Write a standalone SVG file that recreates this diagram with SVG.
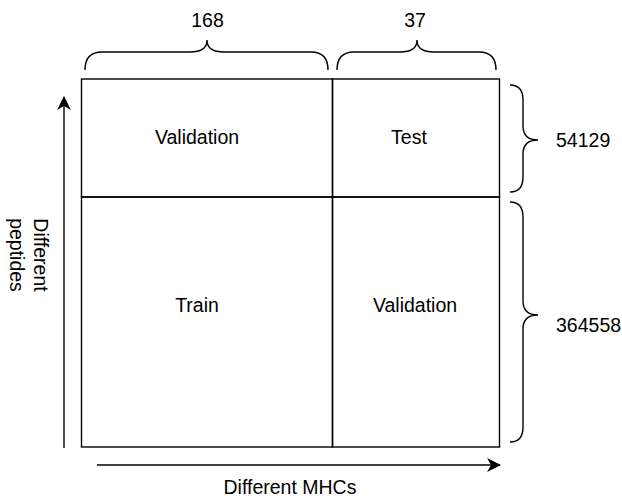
<svg xmlns="http://www.w3.org/2000/svg" width="622" height="498" viewBox="0 0 622 498">
<style>
text{font-family:"Liberation Sans",Arial,sans-serif;font-size:19.5px;fill:#000}
.ln{fill:none;stroke:#000;stroke-width:1.4}
.c{text-anchor:middle}
</style>
<defs>
<marker id="ah" viewBox="0 0 14 14" refX="13" refY="7" markerWidth="14" markerHeight="14" markerUnits="userSpaceOnUse" orient="auto">
<path d="M0,0 L14,7 L0,14 L4,7 Z" fill="#000"/>
</marker>
</defs>
<rect width="622" height="498" fill="#fff"/>
<g id="cell-validation-top">
<rect class="ln" x="81.5" y="79" width="251" height="118"/>
<text class="c" x="197" y="144">Validation</text>
</g>
<g id="cell-test">
<rect class="ln" x="332.5" y="79" width="167" height="118"/>
<text class="c" x="409" y="144">Test</text>
</g>
<g id="cell-train">
<rect class="ln" x="81.5" y="197" width="251" height="250"/>
<text class="c" x="197" y="312">Train</text>
</g>
<g id="cell-validation-bottom">
<rect class="ln" x="332.5" y="197" width="167" height="250"/>
<text class="c" x="415" y="312">Validation</text>
</g>
<g id="brace-168">
<path class="ln" d="M85,70 Q85,52 102,52 L190,52 Q207,52 207,40 Q207,52 224,52 L311,52 Q328,52 328,70"/>
<text class="c" x="207.5" y="27">168</text>
</g>
<g id="brace-37">
<path class="ln" d="M337,70 Q337,52 354,52 L400,52 Q417,52 417,40 Q417,52 434,52 L479,52 Q496,52 496,70"/>
<text class="c" x="415" y="27">37</text>
</g>
<g id="brace-54129">
<path class="ln" d="M510,85 Q523,85 523,100 L523,126 Q523,140 538,140 Q523,140 523,154 L523,177 Q523,192 510,192"/>
<text x="556" y="147">54129</text>
</g>
<g id="brace-364558">
<path class="ln" d="M510,202 Q523,202 523,217 L523,301 Q523,315 538,315 Q523,315 523,329 L523,427 Q523,442 510,442"/>
<text x="556" y="332">364558</text>
</g>
<g id="connectors">
<line class="ln" x1="64" y1="448" x2="64" y2="97" marker-end="url(#ah)"/>
<line class="ln" x1="97" y1="465" x2="500" y2="465" marker-end="url(#ah)"/>
</g>
<g id="label-peptides">
<text class="c" transform="translate(34,255) rotate(90)"><tspan x="0" y="0">Different</tspan><tspan x="0" y="24">peptides</tspan></text>
</g>
<g id="label-mhcs">
<text class="c" x="290" y="494">Different MHCs</text>
</g>
</svg>
